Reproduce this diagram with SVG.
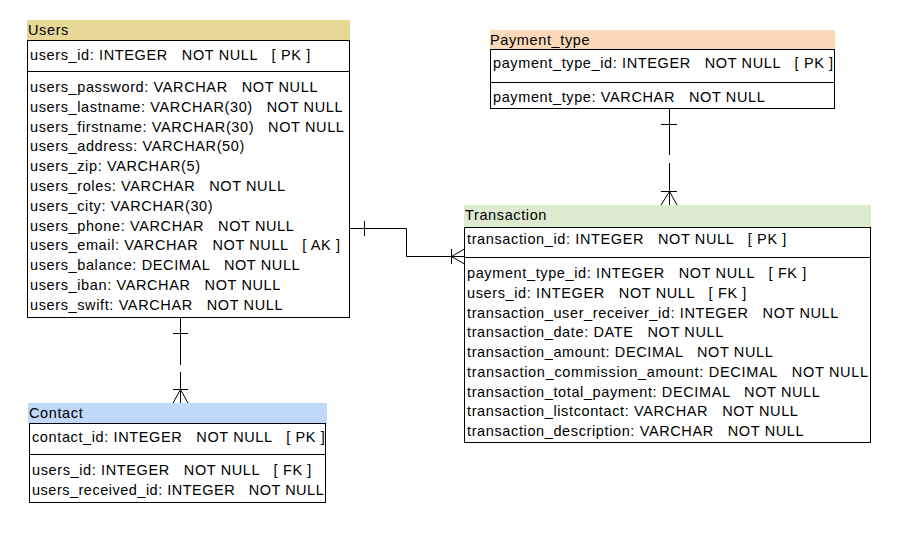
<svg xmlns="http://www.w3.org/2000/svg" width="898" height="551" viewBox="0 0 898 551" xml:space="preserve">
<style>
text{font-family:"Liberation Sans",Arial,sans-serif;font-size:14.5px;letter-spacing:0.62px;fill:#000;white-space:pre}
.box{fill:#fff;stroke:#000;stroke-width:1}
.sep{stroke:#000;stroke-width:1}
.conn{fill:none;stroke:#000;stroke-width:1}
</style>
<rect width="898" height="551" fill="#fff"/>
<g id="users">
<rect x="27" y="20" width="323" height="20" fill="#E8D898"/>
<text x="28" y="35">Users</text>
<rect class="box" x="27.5" y="40.5" width="322" height="277"/>
<line class="sep" x1="27.5" y1="71.5" x2="349.5" y2="71.5"/>
<text x="30" y="60">users_id: INTEGER   NOT NULL   [ PK ]</text>
<text x="30" y="92">users_password: VARCHAR   NOT NULL</text>
<text x="30" y="111.8">users_lastname: VARCHAR(30)   NOT NULL</text>
<text x="30" y="131.6">users_firstname: VARCHAR(30)   NOT NULL</text>
<text x="30" y="151.4">users_address: VARCHAR(50)</text>
<text x="30" y="171.2">users_zip: VARCHAR(5)</text>
<text x="30" y="191">users_roles: VARCHAR   NOT NULL</text>
<text x="30" y="210.8">users_city: VARCHAR(30)</text>
<text x="30" y="230.6">users_phone: VARCHAR   NOT NULL</text>
<text x="30" y="250.4">users_email: VARCHAR   NOT NULL   [ AK ]</text>
<text x="30" y="270.2">users_balance: DECIMAL   NOT NULL</text>
<text x="30" y="290">users_iban: VARCHAR   NOT NULL</text>
<text x="30" y="309.8">users_swift: VARCHAR   NOT NULL</text>
</g>
<g id="payment_type">
<rect x="490" y="30" width="345" height="19" fill="#FAD8B8"/>
<text x="490" y="45">Payment_type</text>
<rect class="box" x="490.5" y="49.5" width="344" height="59"/>
<line class="sep" x1="490.5" y1="82.5" x2="834.5" y2="82.5"/>
<text x="493" y="68">payment_type_id: INTEGER   NOT NULL   [ PK ]</text>
<text x="493" y="102">payment_type: VARCHAR   NOT NULL</text>
</g>
<g id="transaction">
<rect x="464" y="205" width="407" height="22" fill="#DEEAD0"/>
<text x="465" y="220">Transaction</text>
<rect class="box" x="464.5" y="227.5" width="406" height="215"/>
<line class="sep" x1="464.5" y1="257.5" x2="870.5" y2="257.5"/>
<text x="467" y="244">transaction_id: INTEGER   NOT NULL   [ PK ]</text>
<text x="467" y="278">payment_type_id: INTEGER   NOT NULL   [ FK ]</text>
<text x="467" y="297.75">users_id: INTEGER   NOT NULL   [ FK ]</text>
<text x="467" y="317.5">transaction_user_receiver_id: INTEGER   NOT NULL</text>
<text x="467" y="337.25">transaction_date: DATE   NOT NULL</text>
<text x="467" y="357">transaction_amount: DECIMAL   NOT NULL</text>
<text x="467" y="376.75" style="letter-spacing:0.7px">transaction_commission_amount: DECIMAL   NOT NULL</text>
<text x="467" y="396.5">transaction_total_payment: DECIMAL   NOT NULL</text>
<text x="467" y="416.25">transaction_listcontact: VARCHAR   NOT NULL</text>
<text x="467" y="436">transaction_description: VARCHAR   NOT NULL</text>
</g>
<g id="contact">
<rect x="28" y="403" width="299" height="20" fill="#C0D8FA"/>
<text x="29" y="418">Contact</text>
<rect class="box" x="29.5" y="423.5" width="296" height="79"/>
<line class="sep" x1="29.5" y1="454.5" x2="325.5" y2="454.5"/>
<text x="32" y="442">contact_id: INTEGER   NOT NULL   [ PK ]</text>
<text x="32" y="475">users_id: INTEGER   NOT NULL   [ FK ]</text>
<text x="32" y="495" style="letter-spacing:0.5px">users_received_id: INTEGER   NOT NULL</text>
</g>
<g id="connectors">
<path class="conn" d="M349.5 228.5 H406.5 V256.5 H464.5"/>
<line class="conn" x1="364.5" y1="221" x2="364.5" y2="236"/>
<line class="conn" x1="451.5" y1="249" x2="451.5" y2="264"/>
<path class="conn" d="M464.5 249 L451.5 256.5 L464.5 264"/>
<path class="conn" d="M669.5 108.5 V155 M669.5 163 V205"/>
<line class="conn" x1="661" y1="124.5" x2="677" y2="124.5"/>
<line class="conn" x1="661" y1="191.5" x2="677" y2="191.5"/>
<path class="conn" d="M661 205 L669.5 191.5 L677 205"/>
<path class="conn" d="M180.5 317.5 V365 M180.5 372 V403"/>
<line class="conn" x1="173" y1="333.5" x2="188" y2="333.5"/>
<line class="conn" x1="173" y1="389.5" x2="188" y2="389.5"/>
<path class="conn" d="M173 403 L180.5 389.5 L188 403"/>
</g>
</svg>
